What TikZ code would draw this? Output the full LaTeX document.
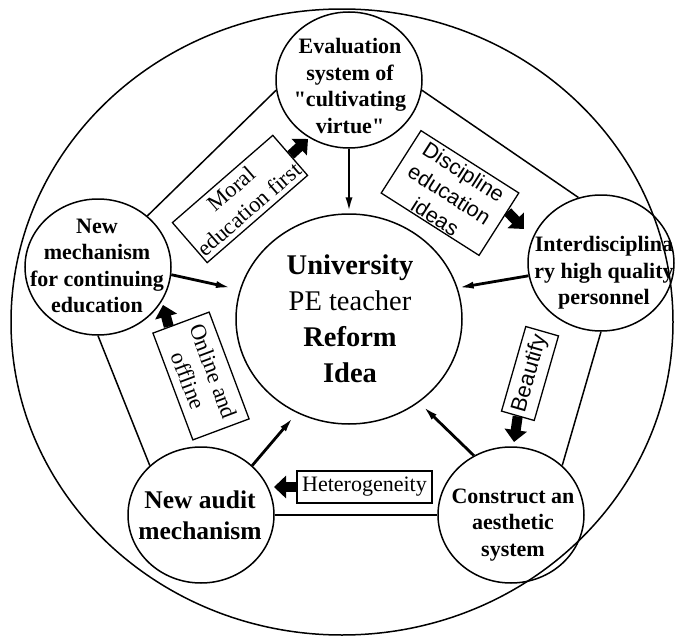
\documentclass[tikz,border=0pt]{standalone}
\usepackage{fontspec}
\setmainfont{Liberation Serif}[Ligatures=TeXOff]
\newfontfamily\lsans{Liberation Sans}[Ligatures=TeXOff]
\usetikzlibrary{arrows.meta,shapes.geometric,calc}
\begin{document}
\begin{tikzpicture}[x=1pt,y=-1pt,
  bub/.style={draw,ellipse,line width=1.5pt,minimum width=146pt,minimum height=136pt,inner sep=0pt},
  ntext/.style={align=center,font=\bfseries\fontsize{22}{26.5}\selectfont,inner sep=0pt},
  lbox/.style={draw,line width=1.3pt,inner sep=0pt,align=center},
  ltext/.style={align=center,inner sep=0pt},
  edge/.style={line width=1.5pt},
  thinarr/.style={line width=2.8pt,-{Latex[length=16pt,width=7pt]}},
  fatarr/.style={line width=10pt,-{Triangle[length=12pt,width=22pt]}}
]
\useasboundingbox (0,0) rectangle (678,637);
% outer ellipse
\draw[edge] (342,322) ellipse [x radius=331, y radius=313];

% circles
\node[bub] (top)   at (349,80)  {};
\node[bub] (left)  at (98,267)  {};
\node[bub] (right) at (601,263) {};
\node[bub] (audit) at (201,515) {};
\node[bub] (cons)  at (511,515) {};
\node[draw,ellipse,line width=1.5pt,minimum width=226pt,minimum height=210pt,inner sep=0pt] (uni) at (349,319) {};

% texts in circles
\node[ntext] (ttop) at (350,86) {Evaluation\\system of\\"cultivating\\virtue"};
\node[ntext] (tleft) at (97,266) {New\\mechanism\\for continuing\\education};
\node[ntext] (tright) at (604,273) {Interdisciplina\\ry high quality\\personnel};
\node[ntext,font=\bfseries\fontsize{25.5}{31}\selectfont] (taudit) at (200,515) {New audit\\mechanism};
\node[ntext] (tcons) at (513,525) {Construct an\\aesthetic\\system};
\node[align=center,inner sep=0pt,font=\fontsize{28.5}{36}\selectfont] (tuni) at (350,319)
  {\textbf{University}\\PE teacher\\\textbf{Reform}\\\textbf{Idea}};

% pentagon edges
\draw[edge] (top.188) -- (left.46);
\draw[edge] (top.352) -- (right.109);
\draw[edge] (right.270) -- (cons.44);
\draw[edge] (audit.east) -- (cons.west);
\draw[edge] (audit.136) -- (left.270);

% thin arrows to centre
\draw[thinarr] (top) -- (uni);
\draw[thinarr,shorten >=8pt] (left.-6) -- (uni.165);
\draw[thinarr] (right.190) -- (uni.16);
\draw[thinarr,shorten >=5pt] (audit.44) -- (uni.241);
\draw[thinarr,shorten >=5pt] (cons.122) -- (uni.-50);

% label boxes
\node[lbox,rotate=41,minimum width=133pt,minimum height=53pt,font=\fontsize{22.5}{27}\selectfont] (mor) at (240,199) {Moral\\education first};
\node[lbox,rotate=-32.5,minimum width=116pt,minimum height=74pt] (dis) at (450,193) {};
\node[ltext,rotate=-32.5,font=\lsans\fontsize{21.5}{26.5}\selectfont] (tdis) at (449,195) {Discipline\\education\\\underline{ideas}};
\node[lbox,rotate=-69.5,minimum width=114pt,minimum height=60pt,font=\fontsize{22.5}{27}\selectfont] (onl) at (201,376) {Online and\\offline};
\node[lbox,rotate=74,minimum width=88pt,minimum height=34pt,font=\lsans\fontsize{22}{26}\selectfont] (beau) at (530,373.5) {Beautify};
\node[lbox,minimum width=135pt,minimum height=32pt,font=\fontsize{22}{26}\selectfont] (het) at (364.5,487) {Heterogeneity};

% tips of the fat arrows
\coordinate (mtip) at (308,139);
\coordinate (dtip) at (524,229);
\coordinate (otip) at (163,305);
\coordinate (btip) at (514,442);
\coordinate (htip) at (274,487);

\draw[fatarr] (mor.east) -- (mtip);
\draw[fatarr] ($(dis.north east)!0.3!(dis.south east)$) -- (dtip);
\draw[fatarr] ($(onl.south west)!0.29!(onl.north west)$) -- (otip);
\draw[fatarr] (beau.west) -- (btip);
\draw[fatarr] (het.west) -- (htip);
\end{tikzpicture}
\end{document}
